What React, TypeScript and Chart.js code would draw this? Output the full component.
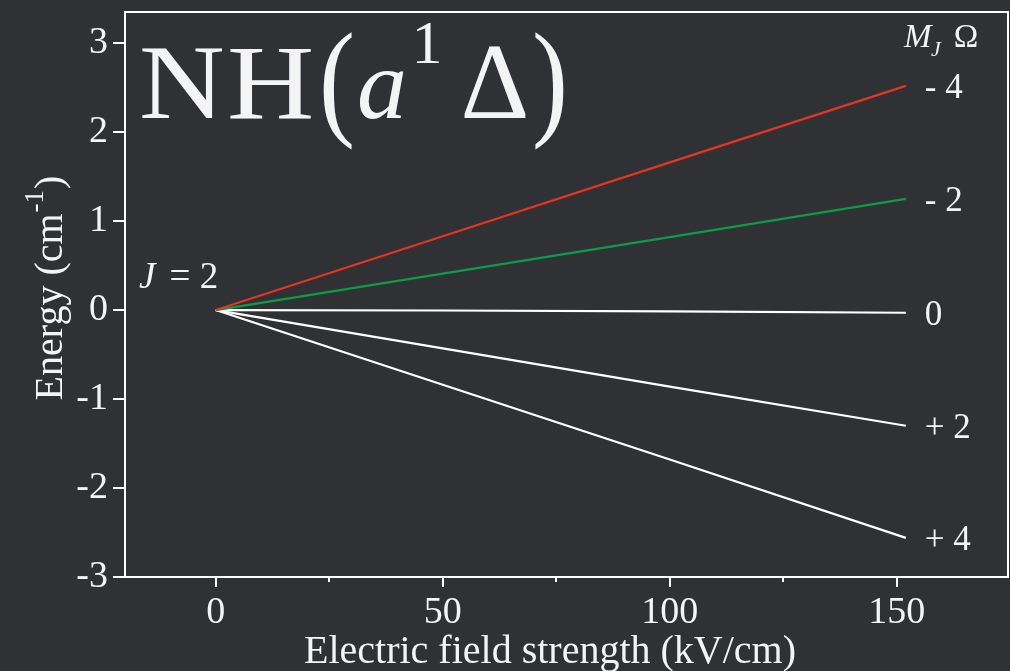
import { useEffect, useRef } from 'react';
import { Chart, registerables } from 'chart.js';

Chart.register(...registerables);

// ---- data ----
const fieldStrength = [0, 50, 100, 152]; // kV/cm
const levelMinus4 = [0, 0.83, 1.66, 2.52];
const levelMinus2 = [0, 0.41, 0.82, 1.25];
const levelZero = [0, -0.005, -0.015, -0.03];
const levelPlus2 = [0, -0.43, -0.86, -1.3];
const levelPlus4 = [0, -0.84, -1.68, -2.56];
const levelLabels = ['- 4', '- 2', '0', '+ 2', '+ 4'];
const levelColors = ['#e63422', '#0c9c46', '#ffffff', '#ffffff', '#ffffff'];
const xMinorTicks = [25, 75, 125];
const xRange = [-20, 174.5];
const yRange = [-3, 3.35];
const xStep = 50;
const yStep = 1;

const BG = '#2f3135';
const TEXT = '#f4f4f4';
const SERIF = "'Liberation Serif', 'Times New Roman', serif";

type TOpts = { italic?: boolean; align?: CanvasTextAlign; scaleX?: number; scaleY?: number };

function drawText(ctx: CanvasRenderingContext2D, s: string, x: number, y: number, size: number, o: TOpts = {}) {
  ctx.save();
  ctx.font = `${o.italic ? 'italic ' : ''}${size}px ${SERIF}`;
  ctx.textAlign = o.align || 'left';
  ctx.textBaseline = 'alphabetic';
  ctx.fillStyle = TEXT;
  ctx.translate(x, y);
  ctx.scale(o.scaleX || 1, o.scaleY || 1);
  ctx.fillText(s, 0, 0);
  ctx.restore();
}

const decorPlugin = {
  id: 'decor',
  afterDraw(chart: any) {
    const ctx: CanvasRenderingContext2D = chart.ctx;
    const ca = chart.chartArea;
    const xs = chart.scales.x;
    const ys = chart.scales.y;

    // frame: top and right borders
    ctx.save();
    ctx.strokeStyle = '#ffffff';
    ctx.lineWidth = 2;
    ctx.beginPath();
    ctx.moveTo(ca.left, ca.top);
    ctx.lineTo(ca.right, ca.top);
    ctx.lineTo(ca.right, ca.bottom);
    ctx.stroke();
    // minor x ticks
    ctx.beginPath();
    xMinorTicks.forEach((v) => {
      const px = Math.round(xs.getPixelForValue(v));
      ctx.moveTo(px, ca.bottom);
      ctx.lineTo(px, ca.bottom + 5);
    });
    ctx.stroke();
    ctx.restore();

    // big title NH(a^1 Δ)
    drawText(ctx, 'N', 139, 118, 106, { scaleX: 1.12 });
    drawText(ctx, 'H', 227, 118, 106, { scaleX: 1.14 });
    drawText(ctx, '(', 337, 122, 108, { align: 'center', scaleY: 1.2 });
    drawText(ctx, 'a', 357, 118, 100, { italic: true });
    drawText(ctx, '1', 427, 63, 62, { align: 'center' });
    drawText(ctx, 'Δ', 495, 118, 107, { align: 'center' });
    drawText(ctx, ')', 550, 122, 108, { align: 'center', scaleY: 1.2 });

    // J = 2
    drawText(ctx, 'J', 139, 288, 37, { italic: true });
    drawText(ctx, '=', 180, 288, 37, { align: 'center' });
    drawText(ctx, '2', 209, 288, 37, { align: 'center' });

    // M_J Ω header
    drawText(ctx, 'M', 904, 47, 33, { italic: true });
    drawText(ctx, 'J', 931, 56, 22, { italic: true });
    drawText(ctx, 'Ω', 966, 47, 33, { align: 'center' });

    // level labels at the end of each line
    chart.data.datasets.forEach((ds: any, i: number) => {
      const last = ds.data[ds.data.length - 1];
      const px = xs.getPixelForValue(last.x) + 19;
      const py = ys.getPixelForValue(last.y) + 12;
      drawText(ctx, levelLabels[i], px, py, 35);
    });

    // x axis title
    drawText(ctx, 'Electric field strength (kV/cm)', 550, 663, 40, { align: 'center' });

    // y axis title with superscript
    ctx.save();
    ctx.translate(62, 288);
    ctx.rotate(-Math.PI / 2);
    ctx.fillStyle = TEXT;
    ctx.textBaseline = 'alphabetic';
    ctx.textAlign = 'left';
    ctx.font = `40px ${SERIF}`;
    const p1 = 'Energy (cm';
    const p3 = ')';
    const w1 = ctx.measureText(p1).width;
    const w3 = ctx.measureText(p3).width;
    ctx.font = `27px ${SERIF}`;
    const p2 = '-1';
    const w2 = ctx.measureText(p2).width;
    const total = w1 + w2 + w3 + 2;
    let cx = -total / 2;
    ctx.font = `40px ${SERIF}`;
    ctx.fillText(p1, cx, 0);
    cx += w1 + 1;
    ctx.font = `27px ${SERIF}`;
    ctx.fillText(p2, cx, -19);
    cx += w2 + 1;
    ctx.font = `40px ${SERIF}`;
    ctx.fillText(p3, cx, 0);
    ctx.restore();
  },
};

export default function App() {
  const canvasRef = useRef<HTMLCanvasElement>(null);

  useEffect(() => {
    const canvas = canvasRef.current;
    if (!canvas) return;
    const series = [levelMinus4, levelMinus2, levelZero, levelPlus2, levelPlus4];
    const chart = new Chart(canvas, {
      type: 'scatter',
      data: {
        datasets: series.map((vals, i) => ({
          label: levelLabels[i],
          data: fieldStrength.map((x, j) => ({ x, y: vals[j] })),
          showLine: true,
          borderColor: levelColors[i],
          backgroundColor: levelColors[i],
          borderWidth: 2.2,
          pointRadius: 0,
          tension: 0,
        })),
      },
      options: {
        responsive: false,
        devicePixelRatio: 1,
        animation: false,
        layout: { padding: { top: 12, right: 2, left: 0, bottom: 0 } },
        plugins: {
          legend: { display: false },
          tooltip: { enabled: false },
          title: { display: false },
        },
        scales: {
          x: {
            type: 'linear',
            position: 'bottom',
            min: xRange[0],
            max: xRange[1],
            ticks: {
              stepSize: xStep,
              includeBounds: false,
              color: TEXT,
              font: { family: SERIF, size: 38 },
              padding: 3,
              maxRotation: 0,
              callback: (v: any) => String(v),
            },
            grid: { drawOnChartArea: false, color: '#ffffff', lineWidth: 2, tickLength: 10 },
            border: { color: '#ffffff', width: 2 },
            afterFit: (s: any) => {
              s.height = 94;
              s.paddingLeft = 0;
              s.paddingRight = 0;
            },
          },
          y: {
            type: 'linear',
            min: yRange[0],
            max: yRange[1],
            ticks: {
              stepSize: yStep,
              includeBounds: false,
              color: TEXT,
              font: { family: SERIF, size: 38 },
              padding: 5,
              callback: (v: any) => String(v),
            },
            grid: { drawOnChartArea: false, color: '#ffffff', lineWidth: 2, tickLength: 12 },
            border: { color: '#ffffff', width: 2 },
            afterFit: (s: any) => {
              s.width = 125;
              s.paddingTop = 0;
              s.paddingBottom = 0;
            },
          },
        },
      },
      plugins: [decorPlugin],
    });
    return () => chart.destroy();
  }, []);

  return (
    <div style={{ position: 'fixed', left: 0, top: 0, width: 1010, height: 671, background: BG, overflow: 'hidden' }}>
      <canvas ref={canvasRef} width={1010} height={671} style={{ display: 'block', width: 1010, height: 671 }} />
    </div>
  );
}
